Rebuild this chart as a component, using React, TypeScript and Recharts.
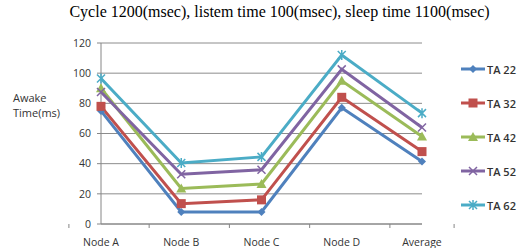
import { LineChart, Line, XAxis, YAxis, CartesianGrid, Legend } from "recharts";

const categories = ["Node A", "Node B", "Node C", "Node D", "Average"];
const ta22 = [75, 8, 8, 77, 41.5];
const ta32 = [78, 13.5, 16, 84, 48];
const ta42 = [90, 23.5, 26.5, 95, 58];
const ta52 = [87.5, 33, 36, 102.5, 64];
const ta62 = [96.5, 40.5, 44.5, 112, 73.5];
const yTicks = [0, 20, 40, 60, 80, 100, 120];

const series = [
  { key: "TA 22", values: ta22, color: "#4F81BD", shape: "diamond" },
  { key: "TA 32", values: ta32, color: "#C0504D", shape: "square" },
  { key: "TA 42", values: ta42, color: "#9BBB59", shape: "triangle" },
  { key: "TA 52", values: ta52, color: "#8064A2", shape: "cross" },
  { key: "TA 62", values: ta62, color: "#4BACC6", shape: "star" },
];

const data = categories.map((name, i) => {
  const row: Record<string, any> = { name };
  series.forEach((s) => (row[s.key] = s.values[i]));
  return row;
});

const Marker = ({ cx, cy, color, shape }: any) => {
  if (cx == null || cy == null) return null;
  switch (shape) {
    case "diamond":
      return (
        <path
          d={`M${cx},${cy - 4}L${cx + 4},${cy}L${cx},${cy + 4}L${cx - 4},${cy}Z`}
          fill={color}
        />
      );
    case "square":
      return <rect x={cx - 4.5} y={cy - 4.5} width={9} height={9} fill={color} />;
    case "triangle":
      return (
        <path
          d={`M${cx},${cy - 5}L${cx + 5},${cy + 4}L${cx - 5},${cy + 4}Z`}
          fill={color}
        />
      );
    case "cross":
      return (
        <path
          d={`M${cx - 4},${cy - 4}L${cx + 4},${cy + 4}M${cx + 4},${cy - 4}L${cx - 4},${cy + 4}`}
          stroke={color}
          strokeWidth={1.5}
        />
      );
    default:
      return (
        <path
          d={`M${cx - 4},${cy - 4}L${cx + 4},${cy + 4}M${cx + 4},${cy - 4}L${cx - 4},${cy + 4}M${cx},${cy - 5}L${cx},${cy + 5}`}
          stroke={color}
          strokeWidth={1.5}
        />
      );
  }
};

const XTick = ({ x, y, payload, index, width, visibleTicksCount }: any) => {
  const half = width / visibleTicksCount / 2;
  return (
    <g>
      <line x1={x - half} x2={x - half} y1={y - 8} y2={y - 4} stroke="#868686" />
      {index === visibleTicksCount - 1 && (
        <line x1={x + half} x2={x + half} y1={y - 8} y2={y - 4} stroke="#868686" />
      )}
      <text x={x} y={y + 14} textAnchor="middle" fontSize={10.5} fill="#333">
        {payload.value}
      </text>
    </g>
  );
};

const LegendBox = () => (
  <div>
    {series.map((s) => (
      <div key={s.key} style={{ height: 34, display: "flex", alignItems: "center" }}>
        <svg width={26} height={12}>
          <line x1={1} x2={25} y1={6} y2={6} stroke={s.color} strokeWidth={3} />
          <Marker cx={13} cy={6} color={s.color} shape={s.shape} />
        </svg>
        <span style={{ fontSize: 11, fontWeight: 600, color: "#333", marginLeft: 1 }}>
          {s.key}
        </span>
      </div>
    ))}
  </div>
);

export default function App() {
  return (
    <div
      style={{
        position: "absolute",
        left: 0,
        top: 0,
        width: 519,
        height: 248,
        background: "#fff",
        fontFamily: "'Open Sans', sans-serif",
      }}
    >
      <div
        style={{
          position: "absolute",
          left: 0,
          width: 559,
          top: 3,
          textAlign: "center",
          fontFamily: "'Liberation Serif', serif",
          fontSize: 16,
          color: "#000",
        }}
      >
        Cycle 1200(msec), listem time 100(msec), sleep time 1100(msec)
      </div>
      <div
        style={{
          position: "absolute",
          left: 13,
          top: 90,
          fontSize: 11,
          lineHeight: "15px",
          color: "#333",
        }}
      >
        Awake
        <br />
        Time(ms)
      </div>
      <LineChart
        width={519}
        height={248}
        data={data}
        margin={{ top: 43, right: 97, left: 0, bottom: 0 }}
      >
        <CartesianGrid vertical={false} stroke="#8c8c8c" />
        <XAxis
          dataKey="name"
          height={24}
          stroke="#868686"
          tickLine={false}
          tick={<XTick />}
          interval={0}
        />
        <YAxis
          width={101}
          domain={[0, 120]}
          ticks={yTicks}
          stroke="#868686"
          tickSize={4}
          tickMargin={6}
          tick={{ fontSize: 10.5, fill: "#333" }}
        />
        <Legend
          layout="vertical"
          align="center"
          verticalAlign="middle"
          content={<LegendBox />}
          wrapperStyle={{ left: 460, top: 52, width: 60 }}
        />
        {series.map((s) => (
          <Line
            key={s.key}
            dataKey={s.key}
            stroke={s.color}
            strokeWidth={3}
            isAnimationActive={false}
            dot={<Marker color={s.color} shape={s.shape} />}
            activeDot={false}
          />
        ))}
      </LineChart>
    </div>
  );
}
